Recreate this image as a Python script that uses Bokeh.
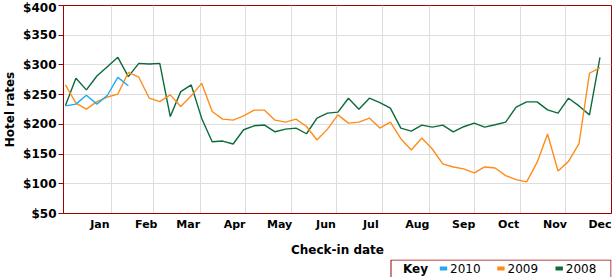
from bokeh.plotting import figure
from bokeh.layouts import column
from bokeh.models import Range1d, FixedTicker
from bokeh.core.properties import value
from bokeh.embed import file_html
from bokeh.resources import INLINE

# ---- data (weekly check-in rates, week 0 = first week of January) ----
weeks = list(range(52))
rates_2008 = [231.6, 277.6, 258, 281.4, 297, 312.8, 280.3, 302.7, 301.5, 302.7,
              213.2, 255.1, 266.3, 210, 170.8, 171.9, 166.9, 190.9, 197.6, 198.8,
              187.5, 192, 193.7, 184.2, 210.5, 218.9, 220.6, 244, 225.6, 244,
              236.7, 227.3, 193.7, 188.7, 198.8, 195.4, 198.8, 187.5, 196, 202.1,
              195.4, 199.3, 203.8, 228.9, 237.8, 237.8, 224.4, 218.9, 244, 231,
              216, 312.8]
rates_2009 = [266.3, 235.7, 225.6, 238.3, 246, 251, 287.3, 279.3, 244, 238.3,
              249.6, 230, 248, 269, 221.6, 208.8, 207.1, 214.4, 223.9, 223.9,
              207.1, 203.8, 208.8, 196.4, 173.6, 192, 216, 202.1, 203.8, 210.5,
              193.7, 203.8, 175.8, 156.8, 177, 158.5, 133.4, 128.3, 125, 118.3,
              128.3, 126.6, 113.7, 107, 103.2, 136, 183.7, 121.6, 137.7, 167.4,
              286, 295.4]
rates_2010 = [231, 234, 249, 234, 249, 279, 265]

series_names = ["2010", "2009", "2008"]
series_colors = ["#22AAEE", "#FF8C1A", "#0B6B3A"]
legend_title = "Key"

months = ["Jan", "Feb", "Mar", "Apr", "May", "Jun",
          "Jul", "Aug", "Sep", "Oct", "Nov", "Dec"]
month_start_days = [0, 31, 59, 90, 120, 151, 181, 212, 243, 273, 304, 334]
y_ticks = [50, 100, 150, 200, 250, 300, 350, 400]

AXIS_RED = "#A00000"
FONT = "DejaVu Sans"

x_days = [7 * w for w in weeks]

# ---------------- main chart ----------------
p = figure(width=612, height=259,
           x_range=Range1d(-1.3, 364.7), y_range=Range1d(50, 400),
           output_backend="svg", toolbar_location=None,
           min_border_left=63, min_border_right=1,
           min_border_top=5, min_border_bottom=45,
           x_axis_label="Check-in date", y_axis_label="Hotel rates")
p.background_fill_color = "white"
p.border_fill_color = "white"
p.outline_line_color = AXIS_RED
p.outline_line_width = 1

p.line(x_days[:len(rates_2008)], rates_2008, line_color=series_colors[2], line_width=1.4)
p.line(x_days[:len(rates_2009)], rates_2009, line_color=series_colors[1], line_width=1.4)
p.line(x_days[:len(rates_2010)], rates_2010, line_color=series_colors[0], line_width=1.4)

# y axis
p.yaxis.ticker = FixedTicker(ticks=y_ticks)
p.yaxis.major_label_overrides = {v: "$" + str(v) for v in y_ticks}
p.yaxis.major_tick_out = 5
p.yaxis.major_tick_in = 0
p.yaxis.minor_tick_line_color = None
p.yaxis.axis_line_color = AXIS_RED
p.yaxis.major_tick_line_color = AXIS_RED
p.yaxis.major_label_text_font = FONT
p.yaxis.major_label_text_font_style = "bold"
p.yaxis.major_label_text_font_size = "12px"
p.yaxis.major_label_text_color = "black"
p.yaxis.major_label_standoff = 2
p.yaxis.axis_label_standoff = 3

# x axis
label_pos = [d + 23 for d in month_start_days]
p.xaxis.ticker = FixedTicker(ticks=label_pos)
p.xaxis.major_label_overrides = {pos: m for pos, m in zip(label_pos, months)}
p.xaxis.major_tick_out = 0
p.xaxis.major_tick_in = 0
p.xaxis.minor_tick_line_color = None
p.xaxis.axis_line_color = AXIS_RED
p.xaxis.major_label_text_font = FONT
p.xaxis.major_label_text_font_style = "bold"
p.xaxis.major_label_text_font_size = "11px"
p.xaxis.major_label_text_color = "black"
p.xaxis.major_label_standoff = 4
p.xaxis.axis_label_standoff = 9

for ax in (p.xaxis, p.yaxis):
    ax.axis_label_text_font = FONT
    ax.axis_label_text_font_style = "bold"
    ax.axis_label_text_font_size = "12px"
    ax.axis_label_text_color = "black"

p.xgrid.ticker = FixedTicker(ticks=month_start_days[1:])
p.ygrid.ticker = FixedTicker(ticks=y_ticks)
p.xgrid.grid_line_color = "#DDDDDD"
p.ygrid.grid_line_color = "#DDDDDD"

# ---------------- legend strip ----------------
# the column aligns this strip's frame with the chart frame (x 63..611 px),
# so a range of 63..611 gives page-pixel coordinates
lg = figure(width=612, height=18, x_range=Range1d(63, 611), y_range=Range1d(18, 0),
            output_backend="svg", toolbar_location=None,
            x_axis_type=None, y_axis_type=None,
            min_border=0, min_border_left=0, min_border_right=0,
            min_border_top=0, min_border_bottom=0)
lg.outline_line_color = None
lg.background_fill_color = "white"
lg.border_fill_color = "white"
lg.grid.visible = False

lg.quad(left=[390.5], right=[610.5], top=[0.5], bottom=[40],
        fill_color="white", line_color=AXIS_RED, line_width=1)
lg.text(x=[402.5], y=[9], text=[legend_title], text_font=value(FONT),
        text_font_style=value("bold"), text_font_size=value("12px"),
        text_baseline=value("middle"), text_color="black")
swatch_left = [439.3, 496.7, 555.0]
lg.quad(left=swatch_left, right=[s + 7.4 for s in swatch_left],
        top=[7] * 3, bottom=[11] * 3, fill_color=series_colors, line_color=None)
lg.text(x=[s + 10.3 for s in swatch_left], y=[9] * 3, text=series_names,
        text_font=value(FONT), text_font_size=value("12px"),
        text_baseline=value("middle"), text_color="black")

layout = column(p, lg, spacing=0)
open("out.html", "w").write(file_html(layout, INLINE))
